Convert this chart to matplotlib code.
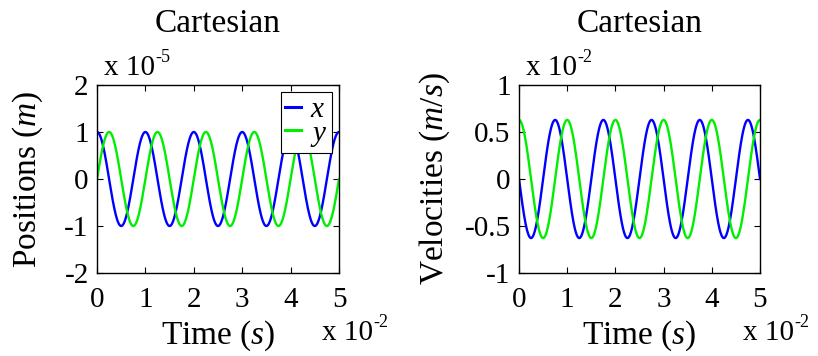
import numpy as np
import matplotlib
matplotlib.use("Agg")
import matplotlib.pyplot as plt

plt.rcParams["font.family"] = ["Liberation Serif", "DejaVu Serif"]
plt.rcParams["mathtext.fontset"] = "custom"
plt.rcParams["mathtext.rm"] = "Liberation Serif"
plt.rcParams["mathtext.it"] = "Liberation Serif:italic"

# Harmonic oscillator parameters
amplitude = 1e-5          # m
period = 0.01             # s
t_end = 0.05              # s
series_names = ["x", "y"]
series_colors = ["#0000ff", "#00ee00"]
x_ticks = [0, 1, 2, 3, 4, 5]
pos_ticks = [-2, -1, 0, 1, 2]
vel_ticks = [-1, -0.5, 0, 0.5, 1]
vel_tick_labels = ["-1", "-0.5", "0", "0.5", "1"]

omega = 2 * np.pi / period
t = np.linspace(0, t_end, 1000)
pos = [amplitude * np.cos(omega * t), amplitude * np.sin(omega * t)]
vel = [-amplitude * omega * np.sin(omega * t), amplitude * omega * np.cos(omega * t)]

W, H = 818, 356
fig = plt.figure(figsize=(W / 100, H / 100), dpi=100)
renderer = fig.canvas.get_renderer()

def box(x0, x1, y0, y1):
    return [x0 / W, 1 - y1 / H, (x1 - x0) / W, (y1 - y0) / H]

def px(x, y):
    return x / W, 1 - y / H

fs_tick = 21
fs_label = 24
fs_title = 24

def scale_text(x, y, exp):
    """MATLAB-style 'x 10^exp' multiplier, baseline at pixel (x, y)."""
    main = fig.text(*px(x, y), "x 10", fontsize=fs_tick, ha="left",
                    va="baseline")
    bb = main.get_window_extent(renderer)
    fig.text(bb.x1 / W, 1 - (y - 13) / H, exp, fontsize=fs_tick * 0.62,
             ha="left", va="baseline")

ax1 = fig.add_axes(box(97, 339, 85, 273))
ax2 = fig.add_axes(box(519, 760, 85, 273))

for ax in (ax1, ax2):
    ax.tick_params(direction="in", length=4, width=0.8, top=True, right=True,
                   labelsize=fs_tick)
    ax.tick_params(axis="x", pad=10)
    ax.tick_params(axis="y", pad=6)
    for s in ax.spines.values():
        s.set_linewidth(1.0)
    ax.set_xlim(0, 5)
    ax.set_xticks(x_ticks)
    ax.set_xticklabels([str(v) for v in x_ticks])
    ax.set_title("Cartesian", fontsize=fs_title, pad=38)
    ax.set_xlabel("Time ($s$)", fontsize=fs_label, labelpad=4)

for name, col, p in zip(series_names, series_colors, pos):
    ax1.plot(t * 100, p * 1e5, color=col, lw=1.7, label=f"${name}$")
ax1.set_ylim(-2, 2)
ax1.set_yticks(pos_ticks)
ax1.set_yticklabels([str(v) for v in pos_ticks])
ax1.set_ylabel("Positions ($m$)", fontsize=fs_label)
ax1.yaxis.set_label_coords(-0.215, 0.5)
leg = ax1.legend(loc="upper right", fontsize=fs_tick, handlelength=0.55,
                 handletextpad=0.3, borderpad=0.15, labelspacing=-0.1,
                 fancybox=False, framealpha=1, edgecolor="black",
                 borderaxespad=0.25)
leg.get_frame().set_linewidth(0.8)
for h in leg.get_lines():
    h.set_linewidth(2.2)

for name, col, v in zip(series_names, series_colors, vel):
    ax2.plot(t * 100, v * 1e2, color=col, lw=1.7)
ax2.set_ylim(-1, 1)
ax2.set_yticks(vel_ticks)
ax2.set_yticklabels(vel_tick_labels)
ax2.set_ylabel("Velocities ($m/s$)", fontsize=fs_label)
ax2.yaxis.set_label_coords(-0.28, 0.5)

scale_text(104, 75, "-5")
scale_text(526, 75, "-2")
scale_text(322, 340, "-2")
scale_text(743, 340, "-2")

fig.savefig("out.png", dpi=100)
